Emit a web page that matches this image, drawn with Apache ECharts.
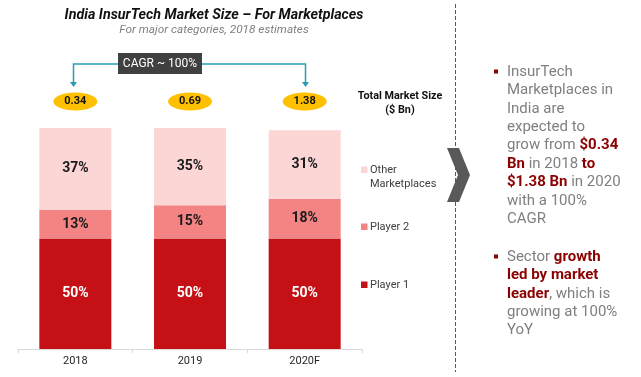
<!DOCTYPE html>
<html>
<head>
<meta charset="utf-8">
<script src="https://cdn.jsdelivr.net/npm/echarts@6/dist/echarts.min.js"></script>
<style>
  html, body { margin: 0; padding: 0; background: #fff; }
  #main { width: 641px; height: 377px; }
</style>
</head>
<body>
<div id="main"></div>
<script>
const categories = ['2018', '2019', '2020F']
const player1 = [50, 50, 50]
const player2 = [13, 15, 18]
const others = [37, 35, 31]
const totals = ['0.34', '0.69', '1.38']
const seriesNames = ['Player 1', 'Player 2', 'Other Marketplaces']
const colors = ['#C51116', '#F48383', '#FCD5D5']

const FONT = 'Roboto, "Noto Sans", sans-serif'
const GREY = '#7f7f7f'
const RED = '#8B0000'

const chart = echarts.init(document.getElementById('main'), null, { renderer: 'canvas' })

function barSeries (name, data, color, labelColor) {
  return {
    name: name,
    type: 'bar',
    stack: 'share',
    barWidth: 72,
    data: data,
    itemStyle: { color: color },
    label: {
      show: true,
      position: 'inside',
      formatter: '{c}%',
      color: labelColor,
      fontFamily: FONT,
      fontWeight: 'bold',
      fontSize: 14
    }
  }
}

chart.setOption({
  animation: false,
  textStyle: { fontFamily: FONT },
  grid: { left: 18, right: 279, top: 128, bottom: 28 },
  xAxis: {
    type: 'category',
    data: categories,
    axisLine: { lineStyle: { color: '#d9d9d9' } },
    axisTick: { show: true, length: 4, lineStyle: { color: '#d9d9d9' } },
    axisLabel: { color: '#262626', fontSize: 11, margin: 7, fontFamily: FONT }
  },
  yAxis: {
    type: 'value',
    min: 0,
    max: 100,
    show: false,
    splitLine: { show: false }
  },
  series: [
    barSeries(seriesNames[0], player1, colors[0], '#ffffff'),
    barSeries(seriesNames[1], player2, colors[1], '#1a1a1a'),
    barSeries(seriesNames[2], others, colors[2], '#1a1a1a')
  ]
})

// pixel positions of categories, from the axis
const xs = categories.map((c) => chart.convertToPixel({ xAxisIndex: 0 }, c))
const teal = '#2A9DB0'
const graphics = []

// titles
graphics.push({
  type: 'text', x: 214, y: 15,
  style: { text: 'India InsurTech Market Size – For Marketplaces', fill: '#111', font: 'italic bold 14.3px ' + FONT, align: 'center', verticalAlign: 'middle' }
})
graphics.push({
  type: 'text', x: 214, y: 30,
  style: { text: 'For major categories, 2018 estimates', fill: '#808080', font: 'italic 11.8px ' + FONT, align: 'center', verticalAlign: 'middle' }
})

// CAGR connector
const xl = Math.round(xs[0]) - 1.5
const xr = Math.round(xs[2]) + 0.5
graphics.push({
  type: 'polyline',
  shape: { points: [[xl, 83], [xl, 64], [118, 64]] },
  style: { stroke: teal, lineWidth: 1.5, fill: null }
})
graphics.push({
  type: 'polyline',
  shape: { points: [[202, 64], [xr, 64], [xr, 83]] },
  style: { stroke: teal, lineWidth: 1.5, fill: null }
})
;[xl, xr].forEach((x) => {
  graphics.push({
    type: 'polygon',
    shape: { points: [[x - 3.5, 82], [x + 3.5, 82], [x, 87]] },
    style: { fill: teal }
  })
})
graphics.push({
  type: 'rect',
  shape: { x: 118, y: 53, width: 84, height: 21 },
  style: { fill: '#404040' }
})
graphics.push({
  type: 'text', x: 160, y: 63.5,
  style: { text: 'CAGR ~ 100%', fill: '#fff', font: '12px ' + FONT, align: 'center', verticalAlign: 'middle' }
})

// total market size ellipses
xs.forEach((x, i) => {
  graphics.push({
    type: 'ellipse',
    shape: { cx: x, cy: 101.5, rx: 22, ry: 9 },
    style: { fill: '#FFC000' }
  })
  graphics.push({
    type: 'text', x: x, y: 101.5,
    style: { text: totals[i], fill: '#111', font: 'bold 11px ' + FONT, align: 'center', verticalAlign: 'middle' }
  })
})
graphics.push({
  type: 'text', x: 400, y: 103,
  style: { text: 'Total Market Size\n($ Bn)', fill: '#111', font: 'bold 10.8px ' + FONT, align: 'center', verticalAlign: 'middle', lineHeight: 14 }
})

// legend
const legendItems = [
  { name: 'Other\nMarketplaces', color: colors[2], y: 170 },
  { name: 'Player 2', color: colors[1], y: 227 },
  { name: 'Player 1', color: colors[0], y: 285 }
]
legendItems.forEach((it) => {
  graphics.push({
    type: 'rect',
    shape: { x: 361, y: it.y - 3.5, width: 6.5, height: 6.5 },
    style: { fill: it.color }
  })
  graphics.push({
    type: 'text', x: 370, y: it.y - 7,
    style: { text: it.name, fill: '#404040', font: '11px ' + FONT, align: 'left', verticalAlign: 'top', lineHeight: 14 }
  })
})

// divider
graphics.push({
  type: 'line',
  shape: { x1: 455.5, y1: 4, x2: 455.5, y2: 372 },
  style: { stroke: '#595959', lineWidth: 1, lineDash: [4, 2] }
})

// chevron
graphics.push({
  type: 'polygon',
  shape: { points: [[447, 148], [459, 148], [470, 175], [459, 202], [447, 202], [458, 175]] },
  style: { fill: '#595959' }
})

// bullet text
const richStyles = {
  n: { fill: GREY, fontSize: 15, fontFamily: FONT, lineHeight: 18.4 },
  b: { fill: RED, fontSize: 15, fontFamily: FONT, fontWeight: 'bold', lineHeight: 18.4 }
}
const bullet1 = [
  '{n|InsurTech}',
  '{n|Marketplaces in}',
  '{n|India are}',
  '{n|expected to}',
  '{n|grow from }{b|$0.34}',
  '{b|Bn}{n| in 2018 }{b|to}',
  '{b|$1.38 Bn}{n| in 2020}',
  '{n|with a 100%}',
  '{n|CAGR}'
]
const bullet2 = [
  '{n|Sector }{b|growth}',
  '{b|led by market}',
  '{b|leader}{n|, which is}',
  '{n|growing at 100%}',
  '{n|YoY}'
]
;[[bullet1, 72], [bullet2, 257]].forEach(([lines, y]) => {
  graphics.push({
    type: 'rect',
    shape: { x: 494, y: y - 2.5, width: 4, height: 4 },
    style: { fill: RED }
  })
  graphics.push({
    type: 'text', x: 507, y: y - 9.2,
    style: { text: lines.join('\n'), rich: richStyles, align: 'left', verticalAlign: 'top' }
  })
})

chart.setOption({ graphic: graphics })
</script>
</body>
</html>
